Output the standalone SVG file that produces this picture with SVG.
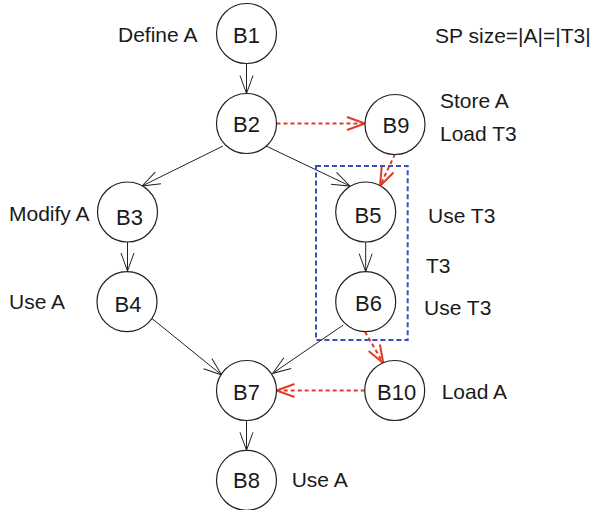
<svg xmlns="http://www.w3.org/2000/svg" width="598" height="510" viewBox="0 0 598 510">
<style>
.n{fill:#fff;stroke:#222;stroke-width:1.2}
.t{font-family:"Liberation Sans",Arial,sans-serif;font-size:21px;fill:#1a1a1a}
.nl{font-family:"Liberation Sans",Arial,sans-serif;font-size:22px;fill:#1a1a1a;text-anchor:middle}
.e{stroke:#222;stroke-width:1;fill:none;marker-end:url(#ab)}
.r{stroke:#e33a2a;stroke-width:2;stroke-dasharray:4 3;fill:none;marker-end:url(#ar)}
</style>
<defs>
<marker id="ab" markerUnits="userSpaceOnUse" markerWidth="24" markerHeight="20" refX="0" refY="0" viewBox="-20 -10 24 20" orient="auto" overflow="visible">
<path d="M-18,-6.5 L0,0 L-18,6.5" fill="none" stroke="#222" stroke-width="1"/>
</marker>
<marker id="ar" markerUnits="userSpaceOnUse" markerWidth="24" markerHeight="20" refX="0" refY="0" viewBox="-20 -10 24 20" orient="auto" overflow="visible">
<path d="M-18,-6.5 L0,0 L-18,6.5" fill="none" stroke="#e33a2a" stroke-width="2"/>
</marker>
</defs>
<rect x="0" y="0" width="598" height="510" fill="#fff"/>
<g id="region">
<rect x="316" y="166" width="91.7" height="174" fill="none" stroke="#3a4fc0" stroke-width="2" stroke-dasharray="5 3"/>
</g>
<g id="connectors">
<line class="e" x1="246.5" y1="63.5" x2="246.5" y2="93.5"/>
<line class="e" x1="223" y1="146" x2="142" y2="186"/>
<line class="e" x1="266" y1="146" x2="350" y2="186"/>
<line class="e" x1="127.5" y1="242" x2="127.5" y2="271"/>
<line class="e" x1="152" y1="318.5" x2="221.7" y2="375"/>
<line class="e" x1="343.3" y1="325" x2="272.7" y2="373.3"/>
<line class="e" x1="365.7" y1="242" x2="365.7" y2="271.7"/>
<line class="e" x1="246.5" y1="420.5" x2="246.5" y2="450.3"/>
<line class="r" x1="276.5" y1="123.5" x2="365" y2="123.5"/>
<line class="r" x1="395" y1="154" x2="380" y2="186"/>
<line class="r" x1="365" y1="331.7" x2="383.3" y2="363.3"/>
<line class="r" x1="364.7" y1="390.5" x2="276.5" y2="390.5"/>
</g>
<g id="B1"><circle class="n" cx="246.5" cy="33.5" r="30"/><text class="nl" x="246.5" y="42.6">B1</text></g>
<g id="B2"><circle class="n" cx="246.5" cy="123.5" r="30"/><text class="nl" x="246.5" y="131.5">B2</text></g>
<g id="B9"><circle class="n" cx="395" cy="124.5" r="30"/><text class="nl" x="396" y="133">B9</text></g>
<g id="B3"><circle class="n" cx="127.5" cy="212" r="30"/><text class="nl" x="129.5" y="225">B3</text></g>
<g id="B4"><circle class="n" cx="127" cy="301.7" r="30"/><text class="nl" x="128" y="311.8">B4</text></g>
<g id="B5"><circle class="n" cx="365.7" cy="212" r="30"/><text class="nl" x="368" y="223">B5</text></g>
<g id="B6"><circle class="n" cx="365.7" cy="301.7" r="30"/><text class="nl" x="368.5" y="311.4">B6</text></g>
<g id="B7"><circle class="n" cx="246.5" cy="390.5" r="30"/><text class="nl" x="246.5" y="399.8">B7</text></g>
<g id="B10"><circle class="n" cx="394.7" cy="390.5" r="30"/><text class="nl" x="396.7" y="399.7">B10</text></g>
<g id="B8"><circle class="n" cx="246.5" cy="480.3" r="30"/><text class="nl" x="246.5" y="488">B8</text></g>
<g id="labels">
<text class="t" x="118" y="42.3">Define A</text>
<text class="t" x="435" y="43.3">SP size=|A|=|T3|</text>
<text class="t" x="440" y="108">Store A</text>
<text class="t" x="440" y="141">Load T3</text>
<text class="t" x="9" y="220.7">Modify A</text>
<text class="t" x="9" y="309.3">Use A</text>
<text class="t" x="428" y="223.3">Use T3</text>
<text class="t" x="426" y="273.3">T3</text>
<text class="t" x="424" y="315">Use T3</text>
<text class="t" x="441.7" y="399">Load A</text>
<text class="t" x="291.7" y="487">Use A</text>
</g>
</svg>
